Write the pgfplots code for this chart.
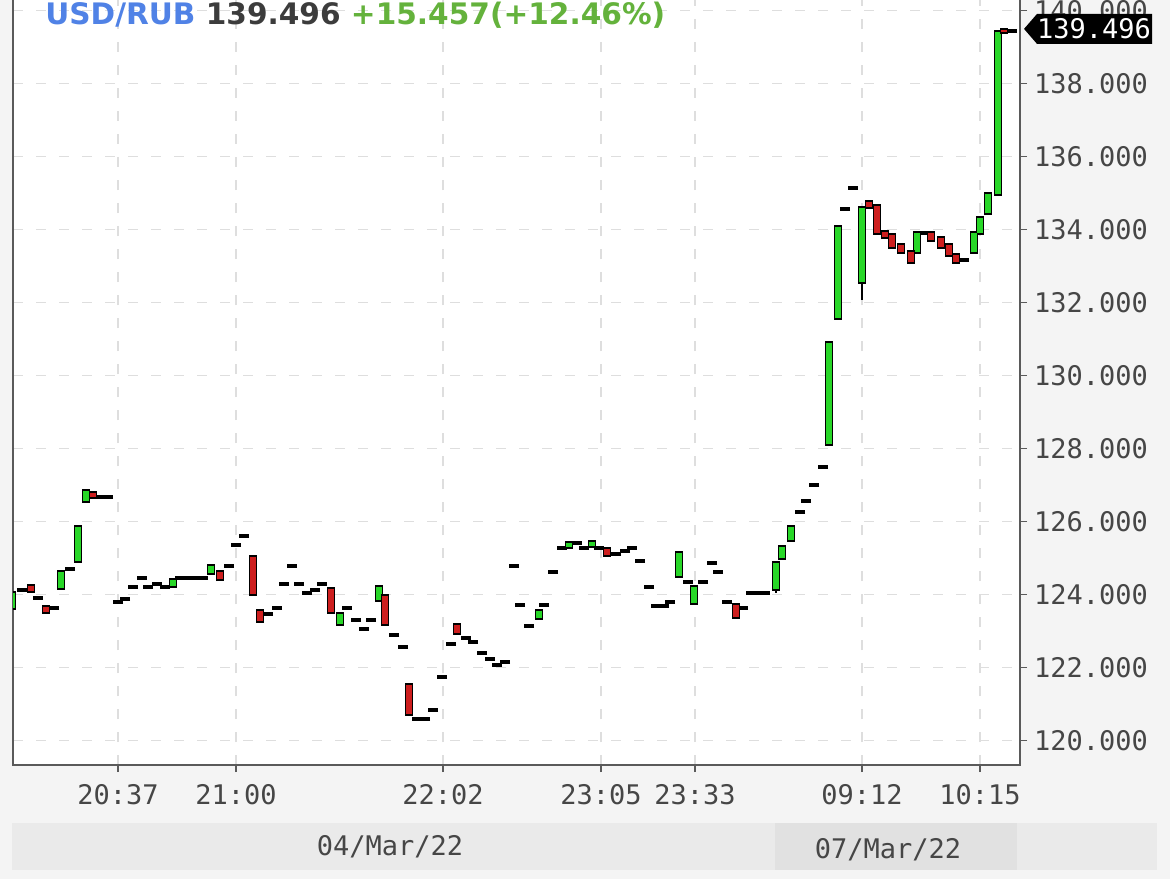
\documentclass[border=0pt]{standalone}
\usepackage{fontspec}
\setmainfont{DejaVu Sans}
\newfontfamily\monofont{DejaVu Sans Mono}
\usepackage{pgfplots}
\usepackage{pgfplotstable}
\pgfplotsset{compat=1.18}
\definecolor{bgc}{RGB}{244,244,244}
\definecolor{bandc}{RGB}{234,234,234}
\definecolor{bandtwo}{RGB}{225,225,225}
\definecolor{gridc}{RGB}{222,222,222}
\definecolor{axisc}{RGB}{90,90,90}
\definecolor{labelc}{RGB}{70,70,70}
\definecolor{greenc}{RGB}{40,215,40}
\definecolor{redc}{RGB}{205,30,30}
\definecolor{tblue}{RGB}{80,130,230}
\definecolor{tgray}{RGB}{60,60,60}
\definecolor{tgreen}{RGB}{100,178,60}

\pgfplotstableread{
x lo hi
12 123.63 124.04
61 124.18 124.62
78 124.92 125.85
86 126.56 126.84
173 124.23 124.40
211 124.59 124.78
340 123.19 123.47
379 123.85 124.21
539 123.36 123.55
569 125.30 125.41
592 125.33 125.44
679 124.51 125.14
694 123.77 124.21
776 124.15 124.86
782 125.00 125.30
791 125.49 125.85
829 128.12 130.89
838 131.58 134.07
862 132.56 134.59
917 133.38 133.90
974 133.38 133.90
980 133.90 134.32
988 134.45 134.97
998 134.97 139.41
}\greentab

\pgfplotstableread{
x lo hi
31 124.10 124.23
46 123.52 123.66
93 126.67 126.78
220 124.42 124.62
253 124.01 125.03
260 123.27 123.55
331 123.52 124.15
385 123.19 123.96
409 120.73 121.52
457 122.95 123.16
607 125.08 125.25
736 123.38 123.71
869 134.62 134.75
877 133.90 134.64
885 133.79 133.93
892 133.52 133.85
901 133.38 133.58
911 133.11 133.38
931 133.71 133.90
941 133.52 133.77
949 133.30 133.58
956 133.11 133.30
1004 139.41 139.46
}\redtab

\pgfplotstableread{
x y
22 124.12
38 123.90
54 123.63
70 124.70
101 126.67
108 126.67
118 123.79
125 123.88
133 124.21
142 124.45
148 124.21
157 124.29
165 124.21
180 124.45
188 124.45
195 124.45
203 124.45
229 124.78
236 125.36
244 125.60
268 123.47
277 123.63
284 124.29
292 124.78
299 124.29
307 124.04
315 124.12
322 124.29
347 123.63
356 123.30
364 123.05
371 123.30
394 122.89
403 122.56
417 120.59
425 120.59
433 120.84
442 121.74
451 122.64
466 122.81
473 122.70
482 122.40
490 122.23
497 122.07
505 122.15
514 124.78
520 123.71
529 123.14
544 123.71
553 124.62
562 125.27
577 125.41
584 125.27
599 125.27
616 125.11
625 125.19
632 125.27
640 124.92
649 124.21
656 123.68
664 123.68
670 123.79
688 124.34
703 124.34
712 124.86
718 124.62
727 123.79
743 123.63
751 124.04
758 124.04
765 124.04
800 126.26
806 126.56
814 127.00
823 127.49
845 134.56
853 135.14
924 133.90
964 133.16
1012 139.44
}\dojitab

\pgfplotstableread{
x lo hi
862 132.07 132.56
776 124.05 124.15
616 125.05 125.15
}\wicktab

\pgfplotsset{
  body/.style 2 args={draw=none, no markers, forget plot,
    error bars/.cd, y dir=plus, y explicit, error mark=none,
    error bar style={draw=#1, line width=#2, solid}},
}

\begin{document}
\begin{tikzpicture}
\useasboundingbox (0pt,0pt) rectangle (585pt,439.5pt);
\clip (0pt,0pt) rectangle (585pt,439.5pt);
\fill[bgc] (0pt,0pt) rectangle (585pt,439.5pt);
\fill[bandc] (6pt,4.5pt) rectangle (578.5pt,28pt);
\fill[bandtwo] (387.5pt,4.5pt) rectangle (508.5pt,28pt);
\node[text=labelc, font=\monofont\fontsize{13.5}{15}\selectfont] at (195pt,16pt) {04/Mar/22};
\node[text=labelc, font=\monofont\fontsize{13.5}{15}\selectfont] at (444pt,14.5pt) {07/Mar/22};
\begin{axis}[
  at={(6.5pt,442pt)}, anchor=north west,
  scale only axis, width=503.5pt, height=385pt,
  xmin=13, xmax=1020, ymin=119.329, ymax=140.425,
  axis background/.style={fill=white},
  axis line style={draw=axisc, line width=1pt},
  xtick={118,236,443,601,695,862,980},
  xticklabels={20:37,21:00,22:02,23:05,23:33,09:12,10:15},
  ytick={120,122,124,126,128,130,132,134,136,138,140},
  yticklabels={120.000,122.000,124.000,126.000,128.000,130.000,132.000,134.000,136.000,138.000,140.000},
  xtick pos=left, ytick pos=right, yticklabel pos=right,
  tick align=outside, major tick length=3.5pt,
  tick style={draw=axisc, line width=0.8pt},
  grid=major, grid style={draw=gridc, line width=0.9pt, dash pattern=on 5pt off 6.5pt},
  ticklabel style={font=\monofont\fontsize{13.5}{15}\selectfont, text=labelc},
  xticklabel style={yshift=-2.5pt},
  clip mode=individual,
]
\addplot [body={black}{0.6pt}]
  table [x=x, y=lo, y error plus expr=\thisrow{hi}-\thisrow{lo}] {\wicktab};
\addplot [only marks, mark=-, mark size=2.6pt, mark options={draw=black, line width=1.8pt, solid}]
  table [x=x, y=y] {\dojitab};
\addplot [body={black}{4.4pt}]
  table [x=x, y expr=\thisrow{lo}-0.05, y error plus expr=\thisrow{hi}-\thisrow{lo}+0.1] {\greentab};
\addplot [body={greenc}{2.7pt}]
  table [x=x, y=lo, y error plus expr=\thisrow{hi}-\thisrow{lo}] {\greentab};
\addplot [body={black}{4.4pt}]
  table [x=x, y expr=\thisrow{lo}-0.05, y error plus expr=\thisrow{hi}-\thisrow{lo}+0.1] {\redtab};
\addplot [body={redc}{2.7pt}]
  table [x=x, y=lo, y error plus expr=\thisrow{hi}-\thisrow{lo}] {\redtab};
\fill[black] (axis cs:1024,139.496) -- ([yshift=7.5pt]axis cs:1037,139.496) -- ([yshift=7.5pt]axis cs:1152,139.496)
  -- ([yshift=-7.5pt]axis cs:1152,139.496) -- ([yshift=-7.5pt]axis cs:1037,139.496) -- cycle;
\node[text=white, font=\monofont\fontsize{13.5}{15}\selectfont] at (axis cs:1094,139.496) {139.496};
\end{axis}
\node[anchor=base west, font=\bfseries\fontsize{14.8}{16}\selectfont, inner sep=0pt] at (22.5pt,427pt)
  {\textcolor{tblue}{USD/RUB} \textcolor{tgray}{139.496} \textcolor{tgreen}{+15.457(+12.46\%)}};
\end{tikzpicture}
\end{document}
